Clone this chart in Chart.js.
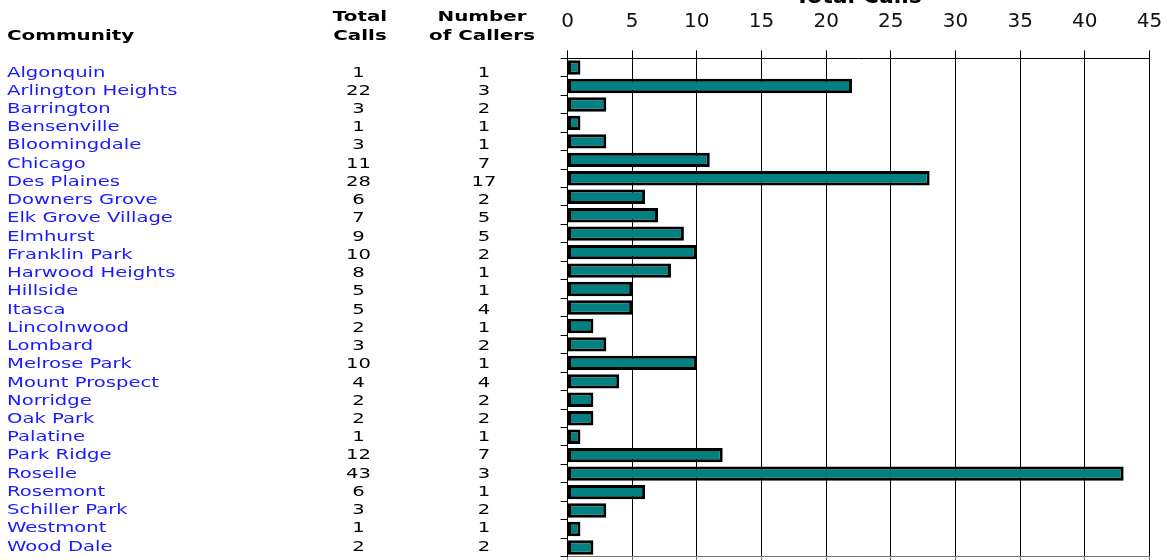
<!DOCTYPE html>
<html>
<head>
<meta charset="utf-8">
<script src="https://cdn.jsdelivr.net/npm/chart.js@4"></script>
<style>
  html, body { margin: 0; padding: 0; background: #fff; }
  #wrap { width: 1167px; height: 560px; position: relative; }
</style>
</head>
<body>
<div id="wrap"><canvas id="calls"></canvas></div>
<script>
// data
const communities = [
  'Algonquin', 'Arlington Heights', 'Barrington', 'Bensenville', 'Bloomingdale',
  'Chicago', 'Des Plaines', 'Downers Grove', 'Elk Grove Village', 'Elmhurst',
  'Franklin Park', 'Harwood Heights', 'Hillside', 'Itasca', 'Lincolnwood',
  'Lombard', 'Melrose Park', 'Mount Prospect', 'Norridge', 'Oak Park',
  'Palatine', 'Park Ridge', 'Roselle', 'Rosemont', 'Schiller Park',
  'Westmont', 'Wood Dale'
];
const totalCalls = [1, 22, 3, 1, 3, 11, 28, 6, 7, 9, 10, 8, 5, 5, 2, 3, 10, 4, 2, 2, 1, 12, 43, 6, 3, 1, 2];
const numberOfCallers = [1, 3, 2, 1, 1, 7, 17, 2, 5, 5, 2, 1, 1, 4, 1, 2, 1, 4, 2, 2, 1, 7, 3, 1, 2, 1, 2];
const axisMin = 0;
const axisMax = 45;
const axisStep = 5;

// the table on the left is drawn with a wide font, so stretch it
const HEAD_STRETCH = 1.37;
const ROW_STRETCH = 1.4;
// table rows run a touch tighter than the bar rows
const ROW_PITCH = 0.988;
const FIRST_BASELINE = 76.5;

function stretchedText(ctx, text, x, y, align, sx) {
    ctx.save();
    ctx.scale(sx, 1);
    ctx.textAlign = align;
    ctx.fillText(text, x / sx, y);
    ctx.restore();
}

const tablePlugin = {
    id: 'communityTable',
    afterDraw(chart) {
        var ctx = chart.ctx;
        var yScale = chart.scales.y;
        var first = yScale.getPixelForValue(0);
        ctx.save();
        ctx.textBaseline = 'alphabetic';

        // headers
        ctx.fillStyle = '#000';
        ctx.font = 'bold 14.5px "DejaVu Sans"';
        stretchedText(ctx, 'Community', 7, 40, 'left', HEAD_STRETCH);
        stretchedText(ctx, 'Total', 360, 20.5, 'center', HEAD_STRETCH);
        stretchedText(ctx, 'Calls', 360, 39.5, 'center', HEAD_STRETCH);
        stretchedText(ctx, 'Number', 482, 20.5, 'center', HEAD_STRETCH);
        stretchedText(ctx, 'of Callers', 482, 39.5, 'center', HEAD_STRETCH);

        // rows
        ctx.font = '14px "DejaVu Sans"';
        communities.forEach(function(name, i) {
            var y = FIRST_BASELINE + (yScale.getPixelForValue(i) - first) * ROW_PITCH;
            ctx.fillStyle = '#1a1aff';
            stretchedText(ctx, name, 7, y, 'left', ROW_STRETCH);
            ctx.fillStyle = '#000';
            stretchedText(ctx, String(totalCalls[i]), 358.5, y, 'center', ROW_STRETCH);
            stretchedText(ctx, String(numberOfCallers[i]), 484, y, 'center', ROW_STRETCH);
        });
        ctx.restore();
    }
};

const ctx = document.getElementById('calls').getContext('2d');
const chart = new Chart(ctx, {
    type: 'bar',
    data: {
        labels: communities,
        datasets: [{
            label: 'Total Calls',
            data: totalCalls,
            backgroundColor: '#008080',
            borderColor: '#000',
            borderWidth: 3,
            borderSkipped: false,
            barPercentage: 0.78,
            categoryPercentage: 1.0
        }]
    },
    options: {
        indexAxis: 'y',
        responsive: true,
        maintainAspectRatio: false,
        animation: false,
        layout: { padding: { left: 0, top: 0, right: 17.5, bottom: 0 } },
        plugins: {
            legend: { display: false },
            tooltip: { enabled: false }
        },
        scales: {
            x: {
                position: 'top',
                min: axisMin,
                max: axisMax,
                ticks: {
                    stepSize: axisStep,
                    color: '#111',
                    padding: 17,
                    font: { family: 'DejaVu Sans', size: 20 }
                },
                grid: { color: '#000', lineWidth: 1, tickLength: 8 },
                border: { color: '#000', width: 1 },
                title: {
                    display: true,
                    text: 'Total Calls',
                    color: '#000',
                    font: { family: 'DejaVu Sans', size: 22, weight: 'bold' },
                    padding: { top: -16, bottom: 0 }
                },
                afterFit: function(scale) {
                    scale.height = 58.3;
                    scale.paddingLeft = 0;
                    scale.paddingRight = 0;
                }
            },
            xb: {
                position: 'bottom',
                axis: 'x',
                min: axisMin,
                max: axisMax,
                ticks: { display: false, stepSize: axisStep },
                grid: { drawOnChartArea: false, color: '#777', tickLength: 4 },
                border: { color: '#777', width: 1 },
                afterFit: function(scale) { scale.height = 3.3; }
            },
            y: {
                ticks: { display: false },
                grid: { drawOnChartArea: false, offset: true, color: '#000', tickLength: 7 },
                border: { color: '#000', width: 1 },
                afterFit: function(scale) { scale.width = 567.5; }
            }
        }
    },
    plugins: [tablePlugin]
});
</script>
</body>
</html>
